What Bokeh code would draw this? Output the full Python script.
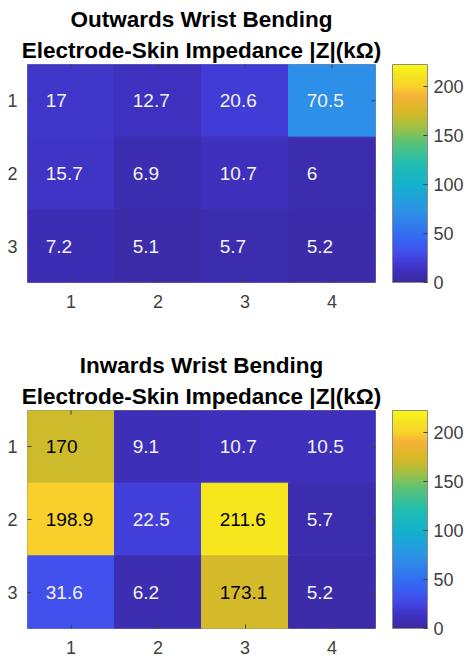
import numpy as np
from bokeh.plotting import figure
from bokeh.layouts import column
from bokeh.models import (ColumnDataSource, LinearColorMapper, ColorBar, FixedTicker,
                          Range1d, Title)
from bokeh.core.properties import value
from bokeh.embed import file_html
from bokeh.resources import INLINE

# Electrode-skin impedance |Z| in kOhm, rows 1-3 x columns 1-4
rows = [1, 2, 3]
cols = [1, 2, 3, 4]
outward_z = [
    [17, 12.7, 20.6, 70.5],
    [15.7, 6.9, 10.7, 6],
    [7.2, 5.1, 5.7, 5.2],
]
inward_z = [
    [170, 9.1, 10.7, 10.5],
    [198.9, 22.5, 211.6, 5.7],
    [31.6, 6.2, 173.1, 5.2],
]
colorbar_ticks = [0, 50, 100, 150, 200]
z_low, z_high = 0, 222

FONT = "Liberation Sans"
GREY = "#404040"
FRAME_W, FRAME_H = 348, 218

# parula-like palette built from anchor colours
anchors = [
    (0.00, "#3b2b96"), (0.03, "#3c2db4"), (0.07, "#4034c6"), (0.10, "#4240dc"),
    (0.14, "#4250ee"), (0.20, "#3566f2"), (0.32, "#2d90e8"), (0.45, "#12b2cc"),
    (0.55, "#22bfae"), (0.65, "#60c272"), (0.72, "#a8c040"), (0.765, "#cbbb2c"),
    (0.79, "#d9b928"), (0.86, "#f6b238"), (0.90, "#f9d22a"), (0.95, "#f5e320"),
    (1.00, "#f8f814"),
]


def hex_rgb(h):
    return [int(h[i:i + 2], 16) for i in (1, 3, 5)]


pos = np.array([a[0] for a in anchors])
rgb = np.array([hex_rgb(a[1]) for a in anchors], dtype=float)
ts = np.linspace(0, 1, 256)
palette = []
for t in ts:
    c = [np.interp(t, pos, rgb[:, k]) for k in range(3)]
    palette.append("#%02x%02x%02x" % tuple(int(round(v)) for v in c))


def style_axis(ax, ticks, standoff):
    ax.ticker = FixedTicker(ticks=ticks)
    ax.axis_line_color = None
    ax.major_tick_in = 4
    ax.major_tick_out = 0
    ax.major_tick_line_color = GREY
    ax.minor_tick_line_color = None
    ax.major_label_text_font = FONT
    ax.major_label_text_color = GREY
    ax.major_label_text_font_size = "18px"
    ax.major_label_standoff = standoff


def heatmap(matrix, line1, line2, height, bottom):
    mapper = LinearColorMapper(palette=palette, low=z_low, high=z_high)
    xs, ys, vals, labels, tcolors = [], [], [], [], []
    for r, row in zip(rows, matrix):
        for c, v in zip(cols, row):
            xs.append(c)
            ys.append(r)
            vals.append(v)
            labels.append("%g" % v)
            tcolors.append("#000000" if v > 150 else "#f2f2f2")
    src = ColumnDataSource(dict(x=xs, y=ys, v=vals, lab=labels, tc=tcolors,
                                tx=[x - 0.29 for x in xs]))

    p = figure(width=468, height=height, output_backend="svg", toolbar_location=None,
               x_range=Range1d(0.5, 4.5), y_range=Range1d(3.5, 0.5),
               min_border_left=27, min_border_right=468 - 27 - FRAME_W,
               min_border_top=64, min_border_bottom=bottom)
    fill = {"field": "v", "transform": mapper}
    p.rect(x="x", y="y", width=1, height=1, source=src,
           fill_color=fill, line_color=fill, line_width=1)
    p.text(x="tx", y="y", text="lab", source=src, text_color="tc",
           text_font=value(FONT), text_font_size="19px",
           text_align="left", text_baseline="middle")

    # mirrored tick marks on the top and right edges of the box
    p.scatter(x=cols, y=[0.5] * len(cols), marker="dash", angle=np.pi / 2,
              size=8, line_color=GREY, line_width=1)
    p.scatter(x=[4.5] * len(rows), y=rows, marker="dash",
              size=8, line_color=GREY, line_width=1)

    p.grid.visible = False
    p.outline_line_color = "#8c8c8c"
    style_axis(p.xaxis[0], cols, 12)
    style_axis(p.yaxis[0], rows, 10)

    cb = ColorBar(color_mapper=mapper, ticker=FixedTicker(ticks=colorbar_ticks),
                  location=(FRAME_W + 17, 0), orientation="vertical",
                  width=35, height=FRAME_H, padding=0, margin=0, label_standoff=6,
                  major_tick_in=4, major_tick_out=0, major_tick_line_color=GREY,
                  bar_line_color="#8c8c8c", border_line_color=None,
                  background_fill_alpha=0,
                  major_label_text_font=FONT, major_label_text_font_size="18px",
                  major_label_text_color=GREY)
    p.add_layout(cb, "center")

    p.add_layout(Title(text=line2, align="center", text_font=FONT,
                       text_font_size="22.5px", text_font_style="bold",
                       text_color="#000000", standoff=4), "above")
    p.add_layout(Title(text=line1, align="center", text_font=FONT,
                       text_font_size="22.5px", text_font_style="bold",
                       text_color="#000000", standoff=3), "above")
    return p


p1 = heatmap(outward_z, "Outwards Wrist Bending",
             "Electrode-Skin Impedance |Z|(k\u03a9)", 346, 64)
p2 = heatmap(inward_z, "Inwards Wrist Bending",
             "Electrode-Skin Impedance |Z|(k\u03a9)", 314, 32)

layout = column(p1, p2, spacing=0)
open("out.html", "w").write(file_html(layout, INLINE))
